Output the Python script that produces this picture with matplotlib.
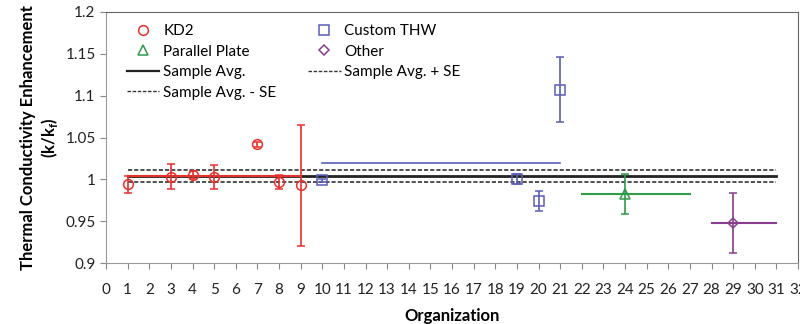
import numpy as np
import matplotlib.pyplot as plt
from matplotlib.lines import Line2D

plt.rcParams['font.family'] = ['Lato', 'DejaVu Sans']

# KD2 measurements
kd2_org = [1, 3, 4, 5, 7, 8, 9]
kd2_val = [0.994, 1.003, 1.005, 1.003, 1.042, 0.997, 0.993]
kd2_err = [0.010, 0.015, 0.005, 0.014, 0.003, 0.008, 0.072]
kd2_avg = 1.004

# Custom transient hot wire
thw_org = [10, 19, 20, 21]
thw_val = [0.999, 1.000, 0.974, 1.107]
thw_err = [0.002, 0.006, 0.012, 0.039]
thw_avg = 1.020

# Parallel plate
pp_org = [24]
pp_val = [0.983]
pp_err = [0.024]

# Other methods
oth_org = [29]
oth_val = [0.948]
oth_err = [0.036]

# overall sample stats
sample_avg = 1.004
sample_se = 0.0075

red = '#e8302c'
blue = '#5a5db8'
green = '#2f9a48'
purple = '#8a3c8e'
dash = (0, (2.5, 1.2))

fig = plt.figure(figsize=(8, 3.24), dpi=100)
ax = fig.add_axes([0.1325, 0.188, 0.865, 0.775])

ax.plot([1, 31], [sample_avg, sample_avg], color='#222222', lw=2, zorder=2)
ax.plot([1, 31], [sample_avg + sample_se] * 2, color='#333333', lw=1.2, ls=dash, zorder=2)
ax.plot([1, 31], [sample_avg - sample_se] * 2, color='#333333', lw=1.2, ls=dash, zorder=2)

# group averages
ax.plot([1, 9], [kd2_avg, kd2_avg], color=red, lw=1.5, zorder=3)
ax.plot([10, 21], [thw_avg, thw_avg], color=blue, lw=1.2, zorder=3)
ax.plot([22, 27], [pp_val[0], pp_val[0]], color=green, lw=1.5, zorder=3)
ax.plot([28, 31], [oth_val[0], oth_val[0]], color=purple, lw=1.5, zorder=3)

kw = dict(ls='none', mfc='none', capsize=3, elinewidth=1.2, capthick=1.2, mew=1.1, zorder=4)
ax.errorbar(kd2_org, kd2_val, yerr=kd2_err, marker='o', ms=7, color=red, **kw)
ax.errorbar(pp_org, pp_val, yerr=pp_err, marker='^', ms=7, color=green, **kw)
ax.errorbar(thw_org, thw_val, yerr=thw_err, marker='s', ms=7, color=blue, **kw)
ax.errorbar(oth_org, oth_val, yerr=oth_err, marker='D', ms=5, color=purple, **kw)

ax.set_xlim(0, 32)
ax.set_ylim(0.9, 1.2)
ax.set_xticks(np.arange(0, 33))
ax.set_yticks([0.9, 0.95, 1.0, 1.05, 1.1, 1.15, 1.2])
ax.set_yticklabels(['0.9', '0.95', '1', '1.05', '1.1', '1.15', '1.2'])
ax.tick_params(axis='both', labelsize=11, colors='#888888', labelcolor='#222222', length=4)
ax.tick_params(axis='x', pad=10)
for side in ['left', 'bottom']:
    ax.spines[side].set_color('#999999')
for side in ['top', 'right']:
    ax.spines[side].set_color('#666666')

ax.set_xlabel('Organization', fontsize=12, fontweight='bold', labelpad=8)
ax.set_ylabel('Thermal Conductivity Enhancement\n(k/k$_\\mathregular{f}$)', fontsize=12,
              fontweight='bold', labelpad=4)

# legend proxies, two columns filled top to bottom
def mk(marker, color, ms=7):
    return Line2D([], [], ls='none', marker=marker, mfc='none', mec=color, ms=ms, mew=1.1)

h_kd2 = mk('o', red)
h_pp = mk('^', green)
h_thw = mk('s', blue)
h_oth = mk('D', purple, 5)
h_avg = Line2D([], [], color='#222222', lw=1.6)
h_se = Line2D([], [], color='#333333', lw=1.0, ls=dash)
blank = Line2D([], [], ls='none')

hs = [h_kd2, h_pp, h_avg, h_se, h_thw, h_oth, h_se, blank]
ls = ['KD2', 'Parallel Plate', 'Sample Avg.', 'Sample Avg. - SE',
      'Custom THW', 'Other', 'Sample Avg. + SE', '']
ax.legend(hs, ls, ncol=2, loc='upper left', bbox_to_anchor=(0.022, 0.975), frameon=False,
          fontsize=11, handlelength=2.1, columnspacing=2.1, labelspacing=0.42,
          handletextpad=0.25, borderaxespad=0.0)

fig.savefig('out.png', dpi=100)
